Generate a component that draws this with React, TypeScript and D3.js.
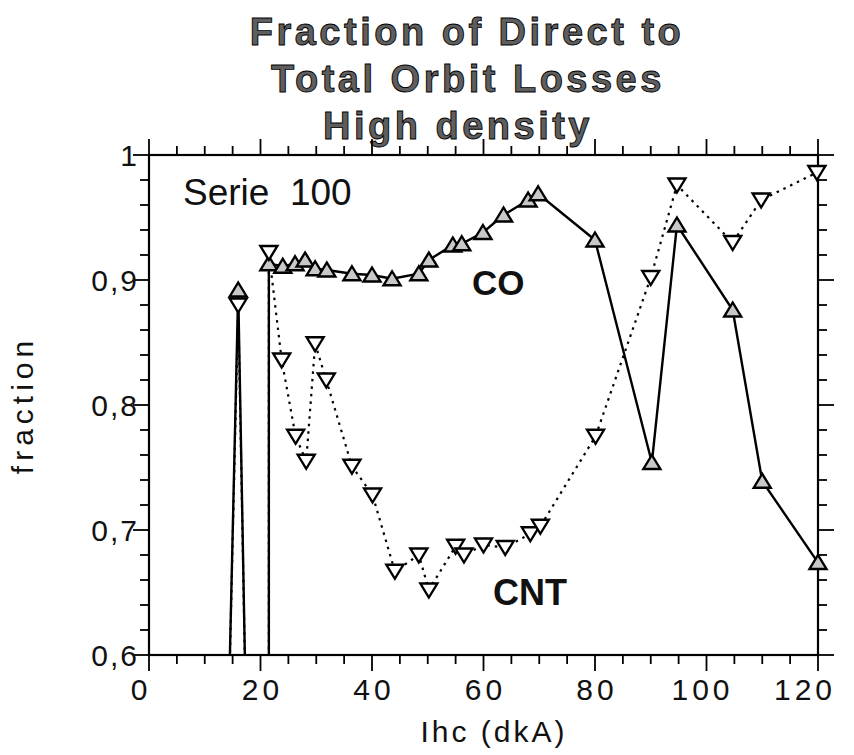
import React from "react";
import * as d3 from "d3";

const coX = [14, 16, 17.6, 21.5, 21.5, 24, 26.2, 28, 29.8, 31.9, 36.4, 40, 43.6, 48.4, 50.2, 54.5, 56.1, 59.9, 63.6, 68, 69.8, 80, 90.2, 94.7, 104.7, 110, 120];
const coY = [0.5, 0.892, 0.5, 0.5, 0.913, 0.911, 0.913, 0.916, 0.909, 0.908, 0.905, 0.904, 0.901, 0.905, 0.916, 0.928, 0.929, 0.938, 0.952, 0.964, 0.969, 0.932, 0.754, 0.944, 0.876, 0.739, 0.674];

const cntX = [14, 16, 17.6, 21.5, 21.5, 23.8, 26.3, 28.2, 29.8, 31.8, 36.4, 40.1, 44.1, 48.4, 50.2, 55, 56.5, 60, 63.9, 68.4, 70.2, 80.1, 90, 94.7, 104.7, 109.8, 119.8];
const cntY = [0.5, 0.88, 0.5, 0.5, 0.922, 0.836, 0.775, 0.755, 0.849, 0.82, 0.751, 0.728, 0.667, 0.68, 0.652, 0.687, 0.68, 0.688, 0.686, 0.697, 0.703, 0.775, 0.902, 0.976, 0.93, 0.964, 0.986];

const xTickLabels = ["0", "20", "40", "60", "80", "100", "120"];
const xTickValues = [0, 20, 40, 60, 80, 100, 120];
const yTickLabels = ["0,6", "0,7", "0,8", "0,9", "1"];
const yTickValues = [0.6, 0.7, 0.8, 0.9, 1.0];

const titleLines = ["Fraction of Direct to", "Total Orbit Losses", "High density"];

const FONT = "'Liberation Sans', Arial, Helvetica, sans-serif";

// layout: horizontal nudges of x tick labels as placed in the original figure
const xLabelShift = [-10, 0, 0, 0, 0, -6, -15];
const titleCenters = [467, 468, 458];

export default function App() {
  const left = 149, right = 818, top = 155, bottom = 655;
  const x = d3.scaleLinear().domain([0, 120]).range([left, right]);
  const y = d3.scaleLinear().domain([0.6, 1.0]).range([bottom, top]);

  const co = coX.map((v, i) => [v, coY[i]] as [number, number]);
  const cnt = cntX.map((v, i) => [v, cntY[i]] as [number, number]);
  const line = d3.line<[number, number]>().x(d => x(d[0])).y(d => y(d[1]));

  const xMinor = d3.range(0, 120.01, 5);
  const yMinor = d3.range(0.6, 1.0001, 0.02);
  const isMajorX = (v: number) => Math.abs(v % 20) < 1e-6;
  const isMajorY = (v: number) => Math.abs(Math.round(v * 10) - v * 10) < 1e-6;
  const MAJ = 16, MIN = 9;

  const upTri = "M0,-7.5L8.5,6.5L-8.5,6.5Z";
  const downTri = "M0,7.5L8.5,-6.5L-8.5,-6.5Z";
  const inRange = (d: [number, number]) => d[1] >= 0.6 && d[1] <= 1.0;

  return (
    <svg width={854} height={755} style={{ position: "absolute", left: 0, top: 0, background: "#fff" }} fontFamily={FONT}>
      <defs>
        <clipPath id="plotClip">
          <rect x={left} y={top} width={right - left} height={bottom - top} />
        </clipPath>
      </defs>
      <rect x={0} y={0} width={854} height={755} fill="#fff" />

      {titleLines.map((t, i) => (
        <text key={t} x={titleCenters[i]} y={45 + i * 47} textAnchor="middle" fontSize={38} fontWeight="bold"
          letterSpacing={3.5} fill="#5e5e5e" stroke="#000" strokeWidth={0.9}>{t}</text>
      ))}

      {/* frame */}
      <rect x={left} y={top} width={right - left} height={bottom - top} fill="none" stroke="#000" strokeWidth={2.2} />

      {xMinor.map(v => {
        const len = isMajorX(v) ? MAJ : MIN;
        return (
          <g key={"xt" + v} stroke="#000" strokeWidth={1.8}>
            <line x1={x(v)} x2={x(v)} y1={bottom} y2={bottom + len} />
            <line x1={x(v)} x2={x(v)} y1={top} y2={top - len} />
          </g>
        );
      })}
      {yMinor.map(v => {
        const len = isMajorY(v) ? MAJ : MIN;
        return (
          <g key={"yt" + v.toFixed(2)} stroke="#000" strokeWidth={1.8}>
            <line x1={left} x2={left - len} y1={y(v)} y2={y(v)} />
            <line x1={right} x2={right + len} y1={y(v)} y2={y(v)} />
          </g>
        );
      })}

      {xTickValues.map((v, i) => (
        <text key={"xl" + v} x={x(v) + 2 + xLabelShift[i]} y={700} textAnchor="middle" fontSize={30} letterSpacing={4} fill="#111">{xTickLabels[i]}</text>
      ))}
      {yTickValues.map((v, i) => (
        <text key={"yl" + v} x={139} y={y(v) + 11} textAnchor="end" fontSize={30} letterSpacing={2} fill="#111">{yTickLabels[i]}</text>
      ))}

      <text x={494} y={742} textAnchor="middle" fontSize={30} letterSpacing={3} fill="#111">Ihc (dkA)</text>
      <text transform="translate(33,405) rotate(-90)" textAnchor="middle" fontSize={30} letterSpacing={5} fill="#111">fraction</text>

      <text x={183} y={205} fontSize={37} fill="#111" style={{ whiteSpace: "pre" }}>Serie  100</text>
      <text x={472} y={295} fontSize={35} fontWeight="bold" fill="#111">CO</text>
      <text x={493} y={605} fontSize={36} fontWeight="bold" fill="#111">CNT</text>

      <g clipPath="url(#plotClip)">
        <path d={line(cnt) || ""} fill="none" stroke="#000" strokeWidth={2.2} strokeDasharray="2.5,5" />
        <path d={line(co) || ""} fill="none" stroke="#000" strokeWidth={2.4} />
      </g>

      {co.filter(inRange).map((d, i) => (
        <path key={"co" + i} d={upTri} transform={`translate(${x(d[0])},${y(d[1])})`} fill="#c8c8c8" stroke="#000" strokeWidth={2.4} strokeLinejoin="miter" />
      ))}
      {cnt.filter(inRange).map((d, i) => (
        <path key={"cn" + i} d={downTri} transform={`translate(${x(d[0])},${y(d[1])})`} fill="#fff" stroke="#000" strokeWidth={2.4} strokeLinejoin="miter" />
      ))}
    </svg>
  );
}
